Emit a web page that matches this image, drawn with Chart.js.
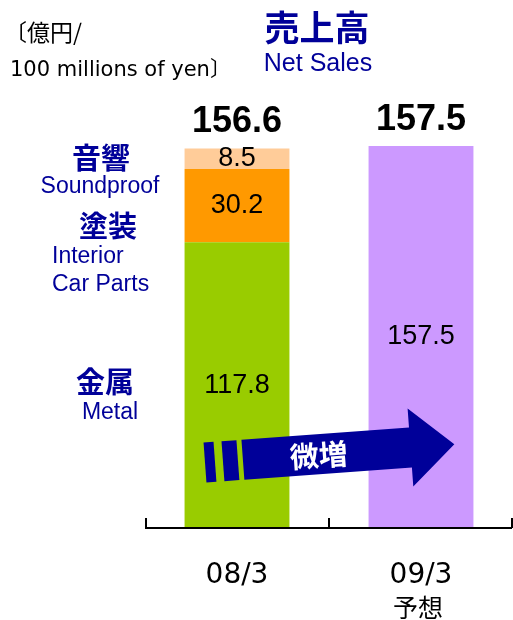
<!DOCTYPE html>
<html>
<head>
<meta charset="utf-8">
<script src="https://cdn.jsdelivr.net/npm/chart.js@4.4.0/dist/chart.umd.min.js"></script>
<style>
  html, body { margin: 0; padding: 0; background: #fff; }
  canvas { display: block; }
</style>
</head>
<body>
<canvas id="grafico" width="513" height="620"></canvas>
<script>
// dados do grafico
const categorias = ["08/3", "09/3"];
const subRotulos = ["", "予想"];
const metal = [117.8, null];
const interior = [30.2, null];
const soundproof = [8.5, null];
const previsao = [null, 157.5];
const totais = [156.6, 157.5];

const azul = '#000099';

const dadosGrafico = {
    labels: categorias,
    datasets: [
        { label: "Metal", data: metal, backgroundColor: '#99cc00' },
        { label: "Interior Car Parts", data: interior, backgroundColor: '#ff9900' },
        { label: "Soundproof", data: soundproof, backgroundColor: '#ffcc99' },
        { label: "Net Sales forecast", data: previsao, backgroundColor: '#cc99ff' }
    ]
};

function texto(ctx, str, x, y, font, cor, align) {
    ctx.font = font;
    ctx.fillStyle = cor;
    ctx.textAlign = align || 'center';
    ctx.textBaseline = 'middle';
    ctx.fillText(str, x, y);
}

// desenha rotulos, eixo, seta e textos fixos
const extras = {
    id: 'extras',
    afterDatasetsDraw(chart) {
        const ctx = chart.ctx;
        const area = chart.chartArea;
        const x = chart.scales.x;
        const y = chart.scales.y;
        ctx.save();

        // valores dentro das barras
        chart.data.datasets.forEach((ds, i) => {
            const meta = chart.getDatasetMeta(i);
            meta.data.forEach((bar, j) => {
                const v = ds.data[j];
                if (v == null) return;
                texto(ctx, v.toFixed(1), bar.x, (bar.y + bar.base) / 2, '27px "Liberation Sans", Arial', '#000');
            });
        });

        // totais acima das barras
        totais.forEach((t, j) => {
            texto(ctx, t.toFixed(1), x.getPixelForValue(j), y.getPixelForValue(t) - 26, 'bold 36px "Liberation Sans", Arial', '#000');
        });

        // segunda linha dos rotulos do eixo
        subRotulos.forEach((s, j) => {
            if (s) texto(ctx, s, x.getPixelForValue(j) - 3, 607, '25px "Noto Sans CJK JP"', '#000');
        });

        // linha base com marcas para cima
        const meio = (x.getPixelForValue(0) + x.getPixelForValue(1)) / 2;
        ctx.strokeStyle = '#000';
        ctx.lineWidth = 2;
        ctx.beginPath();
        ctx.moveTo(area.left, area.bottom);
        ctx.lineTo(area.right - 1, area.bottom);
        [area.left + 1, meio, area.right - 1].forEach(px => {
            ctx.moveTo(px, area.bottom);
            ctx.lineTo(px, area.bottom - 10);
        });
        ctx.stroke();

        // seta "微増"
        ctx.save();
        ctx.translate(area.left + 60, y.getPixelForValue(27));
        ctx.rotate(-0.073);
        ctx.fillStyle = azul;
        ctx.fillRect(0, -20, 10, 40);
        ctx.fillRect(18, -20, 15, 40);
        ctx.beginPath();
        ctx.moveTo(38, -20);
        ctx.lineTo(206, -20);
        ctx.lineTo(206, -39);
        ctx.lineTo(250, 0);
        ctx.lineTo(206, 39);
        ctx.lineTo(206, 20);
        ctx.lineTo(38, 20);
        ctx.closePath();
        ctx.fill();
        texto(ctx, "微増", 114, 1, 'bold 29px "Noto Sans CJK JP"', '#fff');
        ctx.restore();

        // legendas a esquerda
        const jp = 'bold 29px "Noto Sans CJK JP"';
        const en = '23px "Liberation Sans", Arial';
        texto(ctx, "音響", 101, 158, jp, azul);
        texto(ctx, "Soundproof", 100, 187, en, azul);
        texto(ctx, "塗装", 108, 226, jp, azul);
        texto(ctx, "Interior", 52, 257, en, azul, 'left');
        texto(ctx, "Car Parts", 52, 285, en, azul, 'left');
        texto(ctx, "金属", 105, 382, jp, azul);
        texto(ctx, "Metal", 110, 413, en, azul);

        // titulo e unidade
        texto(ctx, "売上高", 317, 28, 'bold 35px "Noto Sans CJK JP"', azul);
        texto(ctx, "Net Sales", 318, 64, '25px "Liberation Sans", Arial', azul);
        texto(ctx, "〔億円/", 4, 32, '23px "Noto Sans CJK JP"', '#000', 'left');
        texto(ctx, "100 millions of yen〕", 10, 71, '21px "DejaVu Sans", "Noto Sans CJK JP"', '#000', 'left');

        ctx.restore();
    }
};

new Chart(document.getElementById('grafico'), {
    type: 'bar',
    data: dadosGrafico,
    options: {
        responsive: false,
        animation: false,
        layout: { padding: { left: 145, right: 0, top: 140, bottom: 30 } },
        datasets: { bar: { categoryPercentage: 0.57, barPercentage: 1 } },
        scales: {
            x: {
                stacked: true,
                grid: { display: false, drawTicks: false },
                border: { display: false },
                ticks: {
                    color: '#000',
                    padding: 31,
                    maxRotation: 0,
                    font: { family: '"DejaVu Sans", "Noto Sans CJK JP"', size: 28 }
                },
                afterFit(scale) { scale.height = 62; }
            },
            y: { stacked: true, display: false, min: 0, max: 160 }
        },
        plugins: {
            legend: { display: false },
            tooltip: { enabled: false }
        }
    },
    plugins: [extras]
});
</script>
</body>
</html>
